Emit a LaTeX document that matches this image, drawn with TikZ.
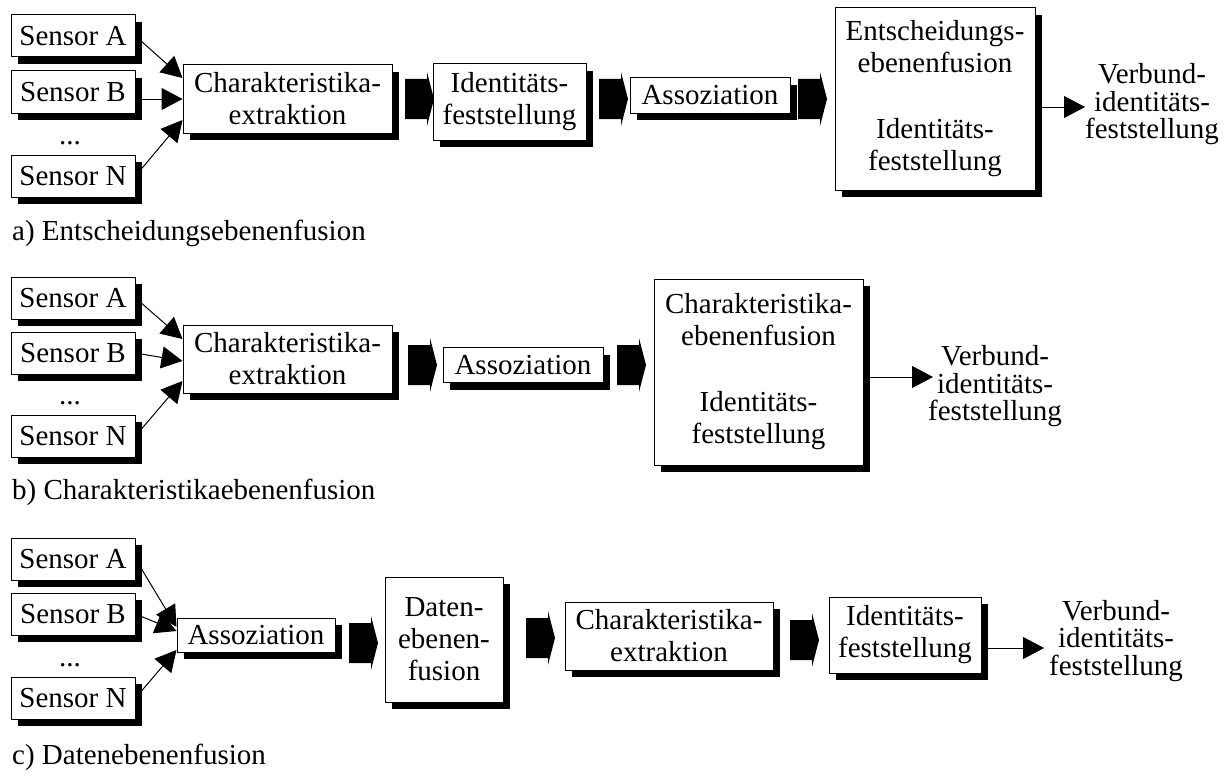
\documentclass[tikz,border=0pt]{standalone}
\usepackage{fontspec}
\setmainfont{Liberation Serif}
\usetikzlibrary{arrows.meta,shadows,calc}
\begin{document}
\begin{tikzpicture}[x=1pt,y=-1pt,
  every node/.style={font=\fontsize{29}{32}\selectfont},
  box/.style={draw, line width=1pt, fill=white, inner sep=0pt, align=center,
    drop shadow={shadow xshift=7pt, shadow yshift=-7pt, opacity=1, fill=black}},
  sensor/.style={box, minimum width=124pt, minimum height=42pt},
  twobox/.style={box, minimum width=209pt, minimum height=68pt},
  identbox/.style={box, minimum width=153pt, minimum height=76pt},
  assobox/.style={box, minimum width=160pt, minimum height=35pt},
  arr/.style={line width=1pt, -{Triangle[length=21pt,width=22pt]}},
  outtxt/.style={align=center, inner sep=0pt, anchor=west, font=\fontsize{29}{27.5}\selectfont},
  lbl/.style={anchor=base west, inner sep=0pt},
  dotstxt/.style={anchor=base, inner sep=0pt},
  blockarr/.pic={\fill (0,-20) -- (22,-20) -- (22,-27) -- (29,0) -- (22,27) -- (22,20) -- (0,20) -- cycle;}
]
\useasboundingbox (0,0) rectangle (1229,776);

% ---------------- row a ----------------
\node[sensor] (aA) at (73,36) {Sensor A};
\node[sensor] (aB) at (73,92) {Sensor B};
\node[dotstxt] (aD) at (70,144) {...};
\node[sensor] (aN) at (73,176) {Sensor N};
\node[twobox] (aC) at (287.5,99) {Charakteristika-\\extraktion};
\draw[arr] (aA.east) -- ([yshift=21pt]aC.west);
\draw[arr] (aB.east |- aC.west) -- (aC.west);
\draw[arr] (aN.east) -- ([yshift=-21pt]aC.west);
\pic at (405,99) {blockarr};
\node[identbox] (aI) at (509.5,102) {Identitäts-\\feststellung};
\pic at (599,99) {blockarr};
\node[assobox] (aS) at (710,95.5) {Assoziation};
\pic at (798,99) {blockarr};
\node[box, minimum width=200pt, minimum height=182pt] (aE) at (935,99)
  {Entscheidungs-\\ebenenfusion\\[34pt]Identitäts-\\feststellung};
\node[outtxt] (aV) at (1085,104.5) {Verbund-\\identitäts-\\feststellung};
\draw[arr] ([yshift=-8pt]aE.east) -- ([yshift=-2.5pt]aV.west);
\node[lbl] (la) at (12,240) {a) Entscheidungsebenenfusion};

% ---------------- row b ----------------
\node[sensor] (bA) at (73,298) {Sensor A};
\node[sensor] (bB) at (73,353) {Sensor B};
\node[dotstxt] (bD) at (70,404) {...};
\node[sensor] (bN) at (73,436) {Sensor N};
\node[twobox] (bC) at (287.5,359) {Charakteristika-\\extraktion};
\draw[arr] (bA.east) -- ([yshift=20pt]bC.west);
\draw[arr] (bB.east) -- ([yshift=-2pt]bC.west);
\draw[arr] (bN.east) -- ([yshift=-22pt]bC.west);
\pic at (408,365) {blockarr};
\node[assobox] (bS) at (523,365) {Assoziation};
\pic at (617,365) {blockarr};
\node[box, minimum width=209pt, minimum height=186pt] (bE) at (758.5,372)
  {Charakteristika-\\ebenenfusion\\[34pt]Identitäts-\\feststellung};
\node[outtxt] (bV) at (928,386.5) {Verbund-\\identitäts-\\feststellung};
\draw[arr] ([yshift=-5pt]bE.east) -- ([xshift=5pt,yshift=9.5pt]bV.west);
\node[lbl] (lb) at (12,499) {b) Charakteristikaebenenfusion};

% ---------------- row c ----------------
\node[sensor] (cA) at (73,559) {Sensor A};
\node[sensor] (cB) at (73,614) {Sensor B};
\node[dotstxt] (cD) at (70,666) {...};
\node[sensor] (cN) at (73,698) {Sensor N};
\node[assobox, minimum width=158pt, minimum height=34pt] (cS) at (256,635) {Assoziation};
\draw[arr] (cA.east) -- ([yshift=8pt]cS.west);
\draw[arr] (cB.east) -- ([yshift=4pt]cS.west);
\draw[arr] (cN.east) -- ([yshift=-15pt]cS.west);
\pic at (349,643) {blockarr};
\node[box, minimum width=118pt, minimum height=125pt] (cD2) at (444,639.5) {Daten-\\ebenen-\\fusion};
\pic at (526,638) {blockarr};
\node[twobox, minimum width=208pt] (cC) at (669,636) {Charakteristika-\\extraktion};
\pic at (790,640) {blockarr};
\node[identbox, minimum width=152pt] (cI) at (905,635) {Identitäts-\\feststellung};
\node[outtxt] (cV) at (1049,641) {Verbund-\\identitäts-\\feststellung};
\draw[arr] ([yshift=-13pt]cI.east) -- ([xshift=-5pt,yshift=-7pt]cV.west);
\node[lbl] (lc) at (12,764) {c) Datenebenenfusion};
\end{tikzpicture}
\end{document}
